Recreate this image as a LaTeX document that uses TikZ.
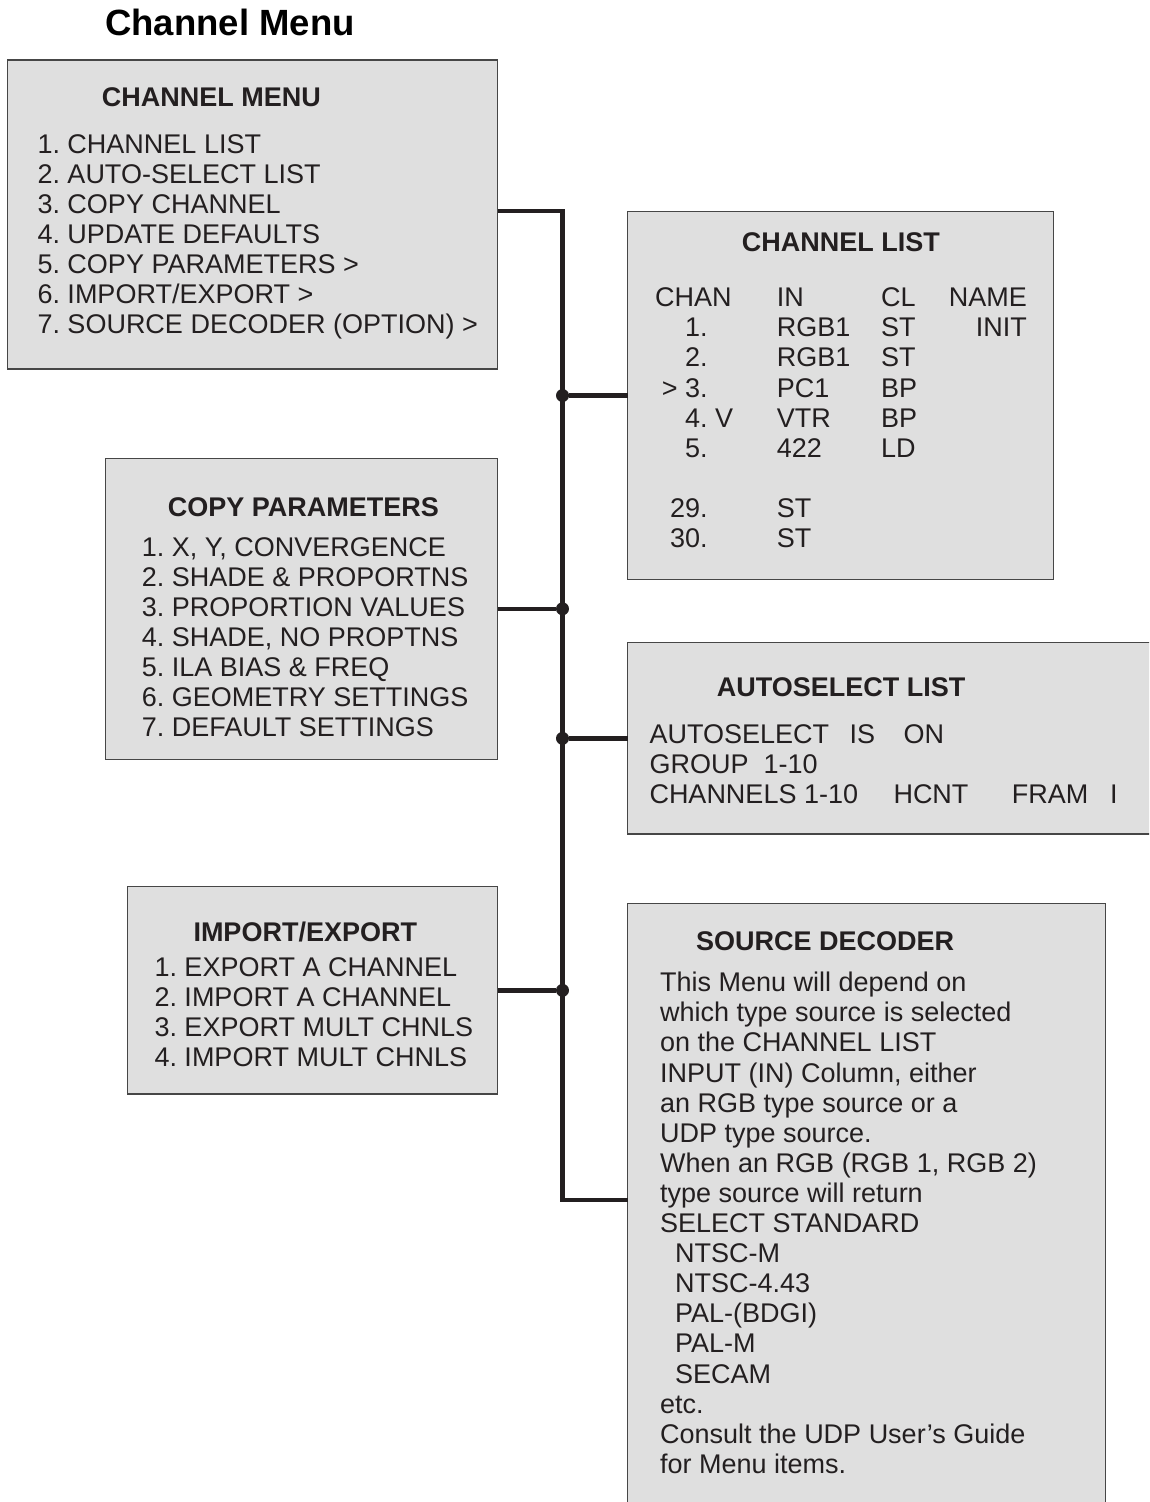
\documentclass[tikz,border=0pt]{standalone}
\usepackage{fontspec}
\setmainfont{Liberation Sans}
\frenchspacing
\definecolor{ink}{RGB}{35,31,32}
\definecolor{panel}{RGB}{223,223,223}
\definecolor{edge}{RGB}{70,70,70}
\newcommand{\menufont}{\fontsize{27pt}{30.1pt}\selectfont}

\begin{document}
\begin{tikzpicture}[x=1pt,y=-1pt,
menubox/.style={draw=edge,fill=panel,line width=1.3pt,rectangle,anchor=north west,inner sep=0pt,outer sep=0pt},
bus/.style={draw=ink,line width=4.5pt},
dot/.style={circle,fill=ink,inner sep=0pt,minimum size=13pt},
item/.style={anchor=base west,inner sep=0pt,text=ink,font=\menufont},
head/.style={item,font=\menufont\bfseries}]

\fill[white] (0,0) rectangle (1149,1502);
\useasboundingbox (0,0) rectangle (1149,1502);
\clip (0,0) rectangle (1149,1502);

\node[item,text=black,font=\fontsize{36.5pt}{40pt}\selectfont\bfseries] (title) at (105,35) {Channel Menu};

% menu panels
\node[menubox,minimum width=490pt,minimum height=309pt] (chmenu) at (7.5,60) {};
\node[menubox,minimum width=426pt,minimum height=367.6pt] (chlist) at (627.5,211.7) {};
\node[menubox,minimum width=392pt,minimum height=301pt] (copyp) at (105.7,458.3) {};
\node[menubox,minimum width=545pt,minimum height=191.3pt] (autosel) at (627.5,642.7) {};
\node[menubox,minimum width=370pt,minimum height=207.3pt] (impexp) at (127.7,886.7) {};
\node[menubox,minimum width=478pt,minimum height=620pt] (srcdec) at (627.5,903.3) {};

% bus
\coordinate (busend) at (562.5,1200);
\draw[bus] ([yshift=3.5pt]chmenu.east) -| (busend) -- (busend -| srcdec.west);
\foreach \b/\side in {chlist/west,copyp/east,autosel/west,impexp/east}{
  \node[dot] (j\b) at (busend |- \b.\side) {};
  \draw[bus] (j\b) -- (\b.\side);
}

% CHANNEL MENU
\node[head] (chmenu-h) at (101.7,106.7) {CHANNEL MENU};
\foreach \t [count=\i] in {1. CHANNEL LIST,2. AUTO-SELECT LIST,3. COPY CHANNEL,
  4. UPDATE DEFAULTS,5. COPY PARAMETERS >,6. IMPORT/EXPORT >,7. SOURCE DECODER (OPTION) >}
  \node[item] (chmenu-\i) at (37.3,{153.3+30.1*(\i-1)}) {\t};

% CHANNEL LIST
\node[head] (chlist-h) at (741.7,251.7) {CHANNEL LIST};
\node[item] (chlist-chan) at (655,306.7) {CHAN};
\node[item] (chlist-in) at (776.7,306.7) {IN};
\node[item] (chlist-cl) at (881,306.7) {CL};
\node[item,anchor=base east] (chlist-name) at (1027,306.7) {NAME};
\foreach \y/\xa/\a/\b/\c [count=\i] in {336.8/685/1./RGB1/ST,366.9/685/2./RGB1/ST,
  397/661.7/> 3./PC1/BP,427.1/685/4. V/VTR/BP,457.2/685/5./422/LD}{
  \node[item] (chlist-n\i) at (\xa,\y) {\a};
  \node[item] (chlist-i\i) at (776.7,\y) {\b};
  \node[item] (chlist-c\i) at (881,\y) {\c};
}
\node[item,anchor=base east] (chlist-init) at (1027,336.8) {INIT};
\foreach \y/\a [count=\i] in {517.8/29.,547.9/30.}{
  \node[item] (chlist-m\i) at (670,\y) {\a};
  \node[item] (chlist-s\i) at (776.7,\y) {ST};
}

% COPY PARAMETERS
\node[head] (copyp-h) at (167.7,516) {COPY PARAMETERS};
\foreach \t [count=\i] in {{1. X, Y, CONVERGENCE},2. SHADE \& PROPORTNS,3. PROPORTION VALUES,
  {4. SHADE, NO PROPTNS},5. ILA BIAS \& FREQ,6. GEOMETRY SETTINGS,7. DEFAULT SETTINGS}
  \node[item] (copyp-\i) at (141.7,{556+30*(\i-1)}) {\t};

% AUTOSELECT LIST
\node[head] (autosel-h) at (716.7,696) {AUTOSELECT LIST};
\foreach \x/\y/\t [count=\i] in {649.3/743.3/AUTOSELECT,849.3/743.3/IS,903.3/743.3/ON,
  649.3/773.4/GROUP,763.3/773.4/1-10,
  649.3/803.5/CHANNELS 1-10,893.3/803.5/HCNT,1011.7/803.5/FRAM,1110/803.5/I}
  \node[item] (autosel-\i) at (\x,\y) {\t};

% IMPORT/EXPORT
\node[head] (impexp-h) at (193.3,941) {IMPORT/EXPORT};
\foreach \t [count=\i] in {1. EXPORT A CHANNEL,2. IMPORT A CHANNEL,3. EXPORT MULT CHNLS,4. IMPORT MULT CHNLS}
  \node[item] (impexp-\i) at (154.3,{976.7+30*(\i-1)}) {\t};

% SOURCE DECODER
\node[head] (srcdec-h) at (696,950) {SOURCE DECODER};
\foreach \x/\t [count=\i] in {660/This Menu will depend on,660/which type source is selected,
  660/on the CHANNEL LIST,660/{INPUT (IN) Column, either},660/an RGB type source or a,
  660/UDP type source.,660/{When an RGB (RGB 1, RGB 2)},660/type source will return,
  660/SELECT STANDARD,675/NTSC-M,675/NTSC-4.43,675/PAL-(BDGI),675/PAL-M,675/SECAM,
  660/etc.,660/Consult the UDP User’s Guide,660/for Menu items.}
  \node[item] (srcdec-\i) at (\x,{991.7+30.1*(\i-1)}) {\t};

\end{tikzpicture}
\end{document}
